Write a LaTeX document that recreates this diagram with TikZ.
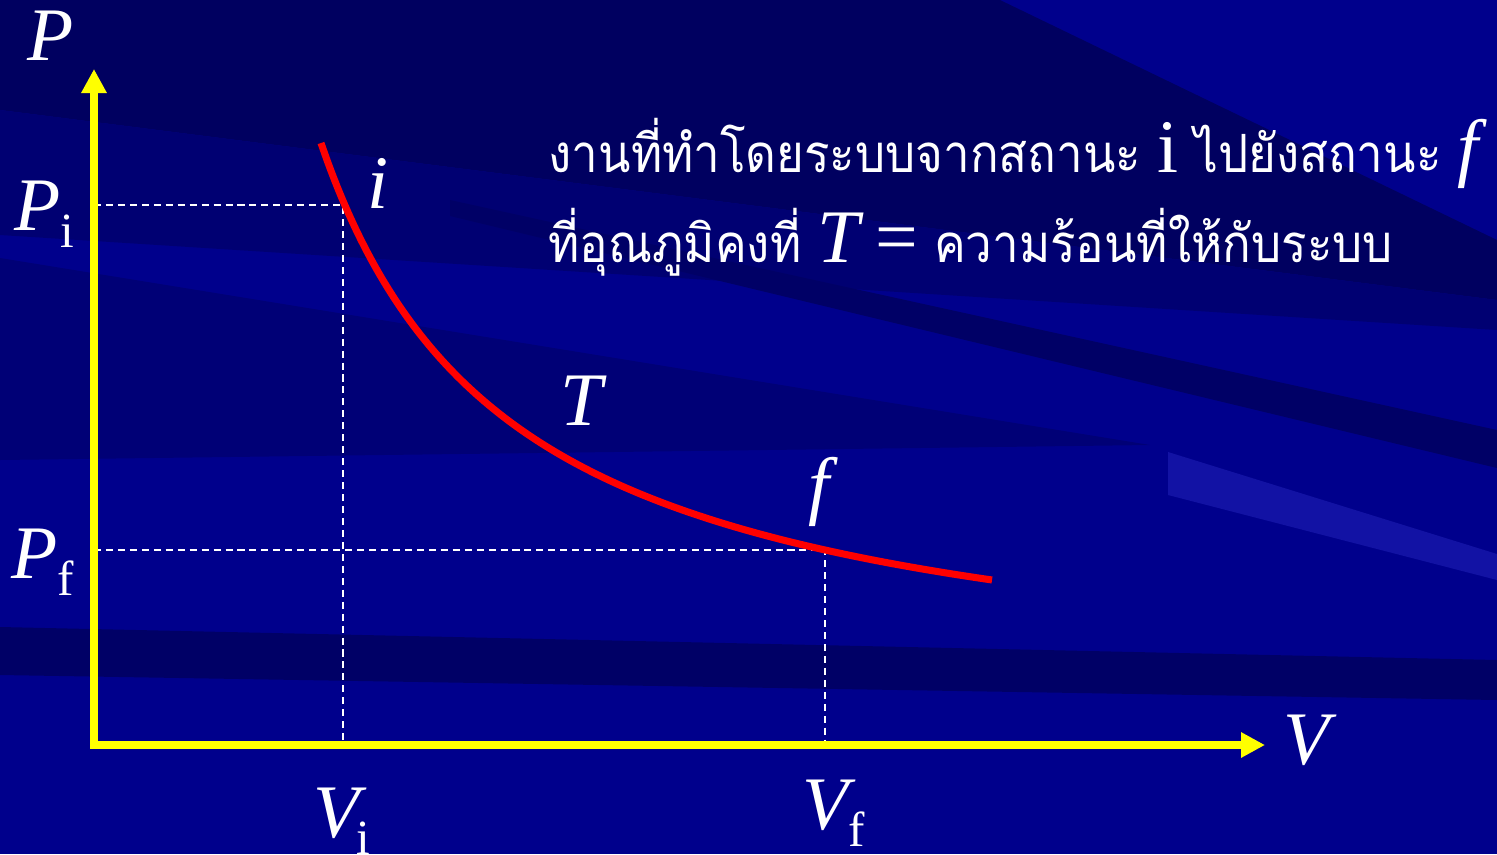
\documentclass[tikz,border=0pt]{standalone}
\usepackage{fontspec}
\setmainfont{Liberation Serif}
\newfontfamily\thaifont[Script=Thai,FakeStretch=0.9]{Loma}
\usetikzlibrary{arrows.meta}
\definecolor{bgbase}{RGB}{0,0,140}
\definecolor{bgtop}{RGB}{0,0,96}
\definecolor{bgmid}{RGB}{0,0,114}
\definecolor{bgsoft}{RGB}{0,0,118}
\definecolor{bgdark}{RGB}{0,0,102}
\definecolor{bgstreak}{RGB}{18,18,164}
\definecolor{axisyellow}{RGB}{255,255,0}
\definecolor{curvered}{RGB}{255,0,0}
\newcommand\lowsub[1]{\raisebox{-5pt}{\fontsize{14}{14}\selectfont\upshape #1}}
\newcommand\bigrm[1]{{\fontsize{21.5}{24}\selectfont\rmfamily\upshape #1}}
\newcommand\bigit[1]{{\fontsize{21.5}{24}\selectfont\rmfamily\itshape #1}}
\tikzset{
  axisline/.style={draw=axisyellow, line width=2.3pt,
    arrows={Triangle[width=0.24cm,length=0.24cm]-Triangle[width=0.24cm,length=0.24cm]}},
  guide/.style={draw=white, line width=0.6pt, dash pattern=on 2pt off 1.4pt},
  isocurve/.style={draw=curvered, line width=2pt},
  lab/.style={text=white, inner sep=0pt, anchor=base west, font=\fontsize{21.5}{24}\selectfont\itshape},
  thai/.style={text=white, inner sep=0pt, anchor=base west, font=\fontsize{15}{18}\selectfont\thaifont},
}
\begin{document}
\begin{tikzpicture}[x=0.01cm, y=-0.01cm]
\useasboundingbox (0,0) rectangle (1497,854);
% background
\fill[bgbase] (0,0) rectangle (1497,854);
\fill[bgtop] (0,0) -- (1000,0) -- (1497,240) -- (1497,300) -- (0,110) -- cycle;
\fill[bgmid] (0,110) -- (1497,300) -- (1497,330) -- (0,235) -- cycle;
\fill[bgsoft] (0,258) -- (1150,445) -- (0,460) -- cycle;
\fill[bgdark] (450,200) -- (1497,430) -- (1497,468) -- (450,216) -- cycle;
\fill[bgdark] (0,627) -- (1497,660) -- (1497,700) -- (0,675) -- cycle;
\fill[bgstreak] (1168,452) -- (1497,554) -- (1497,580) -- (1168,495) -- cycle;
% coordinates
\coordinate (origin) at (94,745);
\coordinate (ytip) at (94,69);
\coordinate (xtip) at (1265,745);
\coordinate (pyi) at (94,205);
\coordinate (pti) at (343,205);
\coordinate (vxi) at (343,745);
\coordinate (pyf) at (94,550);
\coordinate (ptf) at (825,550);
\coordinate (vxf) at (825,745);
% guides
\draw[guide] (pyi) -- (pti) -- (vxi);
\draw[guide] (pyf) -- (ptf) -- (vxf);
% isotherm
\draw[isocurve] plot[domain=227:898, samples=120, smooth] ({94+\x}, {705-1079/((\x-35)/100)});
% axes
\draw[axisline] (ytip) -- (origin) -- (xtip);
% labels
\node[lab] (Plab) at (27,60) {P};
\node[lab] (Pilab) at (14,230) {P\lowsub{i}};
\node[lab] (Pflab) at (11,578) {P\lowsub{f}};
\node[lab] (Vilab) at (313,837) {V\kern-1pt\lowsub{i}};
\node[lab] (Vflab) at (802,829) {V\lowsub{f}};
\node[lab] (Vlab) at (1283,764) {V};
\node[lab] (ilab) at (367,208) {i};
\node[lab] (Tlab) at (560,425) {T};
\node[lab] (flab) at (808,510) {f};
\node[thai] (line1) at (548,172) {งานที่ทำโดยระบบจากสถานะ \bigrm{i} ไปยังสถานะ \bigit{f}};
\node[thai] (line2) at (548,262) {ที่อุณภูมิคงที่ \bigit{T} \bigrm{=} ความร้อนที่ให้กับระบบ};
\end{tikzpicture}
\end{document}
